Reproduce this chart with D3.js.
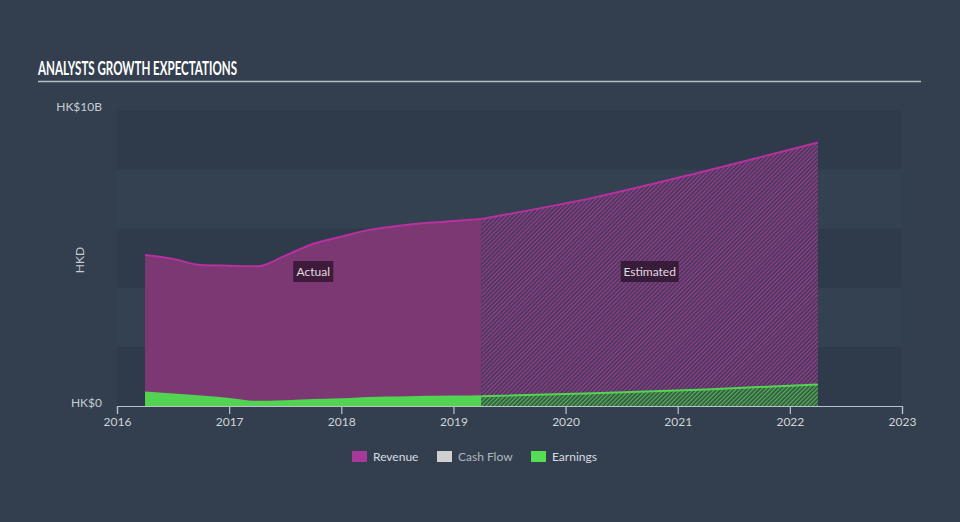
<!DOCTYPE html>
<html><head><meta charset="utf-8">
<script src="https://cdn.jsdelivr.net/npm/d3@7/dist/d3.min.js"></script>
<style>
html,body{margin:0;padding:0;background:#333f4f;}
svg{display:block;}
text{font-family:"Lato","Open Sans",sans-serif;}
</style></head><body>
<svg id="c" width="960" height="522"></svg>
<script>
const title = "ANALYSTS GROWTH EXPECTATIONS";
const yTickLabels = ["HK$0", "HK$10B"];
const yTickValues = [0, 10];
const xTickYears = [2016, 2017, 2018, 2019, 2020, 2021, 2022, 2023];
const splitYear = 2019.25;

const actualDates = [2016.25, 2016.5, 2016.75, 2017.0, 2017.25, 2017.5, 2017.75, 2018.0, 2018.25, 2018.5, 2018.75, 2019.0, 2019.25];
const actualRevenue = [5.1, 4.97, 4.76, 4.74, 4.72, 5.08, 5.48, 5.72, 5.95, 6.08, 6.18, 6.25, 6.32];
const actualEarnings = [0.46, 0.39, 0.32, 0.24, 0.14, 0.16, 0.2, 0.23, 0.27, 0.29, 0.31, 0.32, 0.33];

const estDates = [2019.25, 2020.25, 2021.25, 2022.25];
const estRevenue = [6.32, 7.04, 7.94, 8.9];
const estEarnings = [0.33, 0.43, 0.56, 0.73];

const legendNames = ["Revenue", "Cash Flow", "Earnings"];
const legendColors = ["#a8389a", "#d0d0d0", "#55de55"];

const svg = d3.select("#c");
const x = d3.scaleLinear().domain([2016, 2023]).range([117, 902]);
const y = d3.scaleLinear().domain([0, 10]).range([406, 110]);

// background bands
const bands = d3.range(0, 10, 2);
svg.append("g").selectAll("rect").data(bands).join("rect")
  .attr("x", x(2016)).attr("width", x(2023) - x(2016))
  .attr("y", d => y(d + 2)).attr("height", d => y(d) - y(d + 2))
  .attr("fill", (d, i) => i % 2 === 0 ? "#2f3b4a" : "#334150");

// patterns
const defs = svg.append("defs");
function hatch(id, color, bg) {
  const p = defs.append("pattern").attr("id", id).attr("patternUnits", "userSpaceOnUse")
    .attr("width", 3).attr("height", 3).attr("patternTransform", "rotate(45)");
  p.append("rect").attr("width", 3).attr("height", 3).attr("fill", bg);
  p.append("rect").attr("width", 1.4).attr("height", 3).attr("fill", color);
}
hatch("hRev", "#9a3c90", "#3b3a52");
hatch("hEarn", "#52b452", "#344c46");

const curve = d3.curveMonotoneX;
const area = d3.area().x(d => x(d[0])).y0(y(0)).y1(d => y(d[1])).curve(curve);
const line = d3.line().x(d => x(d[0])).y(d => y(d[1])).curve(curve);

const aRev = actualDates.map((d, i) => [d, actualRevenue[i]]);
const aEarn = actualDates.map((d, i) => [d, actualEarnings[i]]);
const eRev = estDates.map((d, i) => [d, estRevenue[i]]);
const eEarn = estDates.map((d, i) => [d, estEarnings[i]]);

svg.append("path").attr("d", area(aRev)).attr("fill", "#7b3873");
svg.append("path").attr("d", area(eRev)).attr("fill", "url(#hRev)");
svg.append("path").attr("d", line(aRev)).attr("fill", "none").attr("stroke", "#b8309f").attr("stroke-width", 2);
svg.append("path").attr("d", line(eRev)).attr("fill", "none").attr("stroke", "#b8309f").attr("stroke-width", 2);

svg.append("path").attr("d", area(aEarn)).attr("fill", "#52d452");
svg.append("path").attr("d", area(eEarn)).attr("fill", "url(#hEarn)");
svg.append("path").attr("d", line(aEarn)).attr("fill", "none").attr("stroke", "#52d452").attr("stroke-width", 2);
svg.append("path").attr("d", line(eEarn)).attr("fill", "none").attr("stroke", "#52d452").attr("stroke-width", 2);

// x axis
const xAxis = d3.axisBottom(x).tickValues(xTickYears).tickFormat(d3.format("d")).tickSize(8).tickPadding(3);
const gx = svg.append("g").attr("transform", `translate(0,${y(0)})`).call(xAxis);
gx.select(".domain").attr("stroke", "#b8c2cc").attr("stroke-width", 1.2);
gx.selectAll(".tick line").attr("stroke", "#b8c2cc").attr("stroke-width", 1.2);
gx.selectAll(".tick text").attr("fill", "#d0d4d8").attr("font-size", 12).attr("font-family", "Lato, sans-serif");

// y labels
svg.append("g").selectAll("text").data(yTickValues).join("text")
  .attr("x", 102).attr("y", d => y(d) - 2).attr("text-anchor", "end")
  .attr("dominant-baseline", "middle")
  .attr("fill", "#c8ccd2").attr("font-size", 12)
  .text((d, i) => yTickLabels[i]);
svg.append("text").attr("transform", `translate(84,${(y(0) + y(10)) / 2 + 2}) rotate(-90)`)
  .attr("text-anchor", "middle").attr("fill", "#c8ccd2").attr("font-size", 12).text("HKD");

// Actual / Estimated labels
function tag(cx, txt, w) {
  const g = svg.append("g");
  g.append("rect").attr("x", cx - w / 2).attr("y", 261).attr("width", w).attr("height", 21)
    .attr("fill", "#2a1228").attr("opacity", 0.75);
  g.append("text").attr("x", cx).attr("y", 276).attr("text-anchor", "middle")
    .attr("fill", "#e0dce0").attr("font-size", 12).text(txt);
}
tag((x(actualDates[0]) + x(splitYear)) / 2, "Actual", 40);
tag((x(splitYear) + x(estDates[estDates.length - 1])) / 2, "Estimated", 58);

// title
svg.append("text").attr("x", 38).attr("y", 75).attr("fill", "#ffffff")
  .attr("font-family", "'DejaVu Sans Condensed','Liberation Sans Narrow',sans-serif")
  .attr("font-weight", "bold").attr("font-size", 18.5)
  .attr("textLength", 199).attr("lengthAdjust", "spacingAndGlyphs").text(title);
svg.append("line").attr("x1", 38).attr("x2", 921).attr("y1", 81.5).attr("y2", 81.5)
  .attr("stroke", "#b8bec6").attr("stroke-width", 1.5);

// legend
const legendX = [352, 437, 531];
const lg = svg.append("g").selectAll("g").data(legendNames).join("g")
  .attr("transform", (d, i) => `translate(${legendX[i]},451)`);
lg.append("rect").attr("width", 15).attr("height", 11).attr("fill", (d, i) => legendColors[i]);
lg.append("text").attr("x", 21).attr("y", 9.5).attr("fill", (d, i) => i === 1 ? "#b0b6bc" : "#d8dce0")
  .attr("font-size", 12).text(d => d);
</script>
</body></html>
